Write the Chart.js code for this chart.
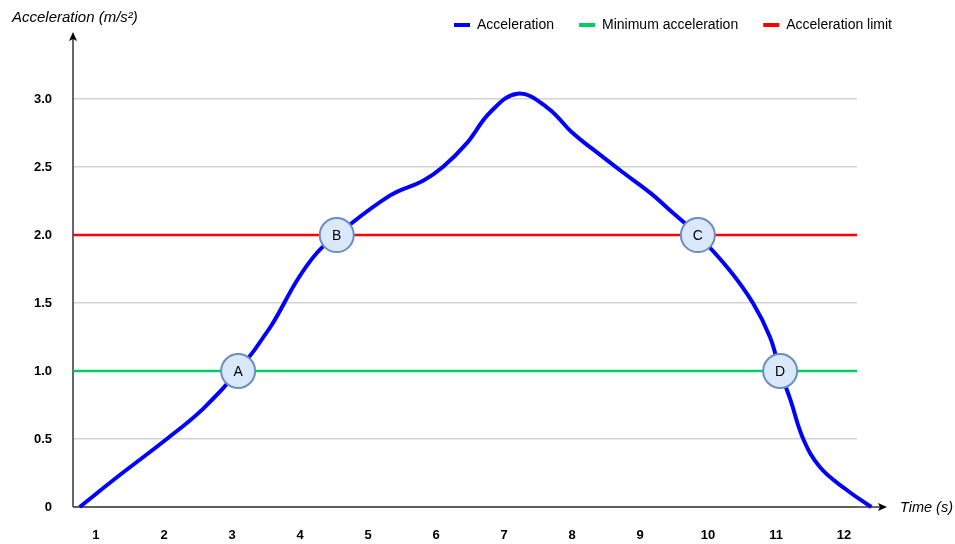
<!DOCTYPE html>
<html>
<head>
<meta charset="utf-8">
<script src="https://cdn.jsdelivr.net/npm/chart.js@4.4.1/dist/chart.umd.min.js"></script>
<style>
  html, body { margin: 0; padding: 0; background: #fff; }
  #wrap { width: 955px; height: 544px; }
</style>
</head>
<body>
<div id="wrap"><canvas id="grafico"></canvas></div>
<script>
// dados
const tempos = [0.76, 1.35, 2.04, 2.57, 3.09, 3.56, 3.96, 4.25, 4.54, 5.32, 5.81, 6.10, 6.46, 6.79, 7.20, 7.63, 8.01, 8.31, 8.75, 9.15, 9.49, 9.85, 10.32, 10.66, 10.91, 11.06, 11.21, 11.40, 11.65, 12.04, 12.40];
const aceleracoes = [0, 0.235, 0.5, 0.72, 1.0, 1.32, 1.67, 1.87, 2.0, 2.29, 2.40, 2.5, 2.68, 2.9, 3.04, 2.94, 2.75, 2.63, 2.46, 2.31, 2.16, 2.0, 1.74, 1.5, 1.25, 1.0, 0.79, 0.5, 0.29, 0.125, 0];

const aceleracaoMinima = 1.0;
const limiteAceleracao = 2.0;

const marcadores = ["A", "B", "C", "D"];
const temposMarcadores = [3.09, 4.54, 9.85, 11.06];
const valoresMarcadores = [1.0, 2.0, 2.0, 1.0];

const ticksX = [1, 2, 3, 4, 5, 6, 7, 8, 9, 10, 11, 12];
const ticksY = [0, 0.5, 1.0, 1.5, 2.0, 2.5, 3.0];

const legendas = ["Acceleration", "Minimum acceleration", "Acceleration limit"];

const xMin = 0.662;
const xMax = 12.19;
const yMax = 3.42;

const fonte = "'Liberation Sans', Arial, Helvetica, sans-serif";

// desenha eixos com setas, títulos e letras dos marcadores
const extras = {
	id: "extras",
	beforeDatasetsDraw(chart) {
		const { ctx, chartArea } = chart;
		ctx.save();
		ctx.strokeStyle = "#333";
		ctx.fillStyle = "#000";
		ctx.lineWidth = 1.5;
		// eixo Y
		ctx.beginPath();
		ctx.moveTo(chartArea.left, chartArea.bottom);
		ctx.lineTo(chartArea.left, 38);
		ctx.stroke();
		ctx.beginPath();
		ctx.moveTo(chartArea.left, 32);
		ctx.lineTo(chartArea.left - 4, 41);
		ctx.lineTo(chartArea.left, 39);
		ctx.lineTo(chartArea.left + 4, 41);
		ctx.closePath();
		ctx.fill();
		// eixo X
		ctx.beginPath();
		ctx.moveTo(chartArea.left, chartArea.bottom);
		ctx.lineTo(880, chartArea.bottom);
		ctx.stroke();
		ctx.beginPath();
		ctx.moveTo(887, chartArea.bottom);
		ctx.lineTo(878, chartArea.bottom - 4);
		ctx.lineTo(880, chartArea.bottom);
		ctx.lineTo(878, chartArea.bottom + 4);
		ctx.closePath();
		ctx.fill();
		ctx.restore();
	},
	afterDatasetsDraw(chart) {
		const { ctx } = chart;
		const meta = chart.getDatasetMeta(3);
		ctx.save();
		ctx.fillStyle = "#000";
		ctx.font = "14px " + fonte;
		ctx.textAlign = "center";
		ctx.textBaseline = "middle";
		meta.data.forEach((ponto, i) => {
			ctx.fillText(marcadores[i], ponto.x, ponto.y + 1);
		});
		ctx.restore();
	},
	afterDraw(chart) {
		const { ctx, chartArea } = chart;
		ctx.save();
		ctx.fillStyle = "#000";
		ctx.font = "italic 15px " + fonte;
		ctx.textBaseline = "middle";
		ctx.textAlign = "left";
		ctx.fillText("Acceleration (m/s²)", 12, 18);
		ctx.font = "italic 14.5px " + fonte;
		ctx.fillText("Time (s)", 900, chartArea.bottom + 1);
		ctx.restore();
	},
};

const dadosCurva = tempos.map((t, i) => ({ x: t, y: aceleracoes[i] }));
const dadosMarcadores = temposMarcadores.map((t, i) => ({ x: t, y: valoresMarcadores[i] }));

const config = {
	type: "line",
	data: {
		datasets: [
			{
				label: legendas[0],
				data: dadosCurva,
				borderColor: "#0000ff",
				backgroundColor: "#0000ff",
				borderWidth: 4,
				pointRadius: 0,
				tension: 0.4,
				clip: false,
				order: 1,
			},
			{
				label: legendas[1],
				data: [
					{ x: xMin, y: aceleracaoMinima },
					{ x: xMax, y: aceleracaoMinima },
				],
				borderColor: "#00cc66",
				backgroundColor: "#00cc66",
				borderWidth: 2.5,
				pointRadius: 0,
				clip: false,
				order: 2,
			},
			{
				label: legendas[2],
				data: [
					{ x: xMin, y: limiteAceleracao },
					{ x: xMax, y: limiteAceleracao },
				],
				borderColor: "#ff0000",
				backgroundColor: "#ff0000",
				borderWidth: 2.5,
				pointRadius: 0,
				clip: false,
				order: 3,
			},
			{
				label: "marcadores",
				data: dadosMarcadores,
				showLine: false,
				pointRadius: 17,
				pointBackgroundColor: "#dae8fc",
				pointBorderColor: "#6c8ebf",
				pointBorderWidth: 2,
				clip: false,
				order: 0,
			},
		],
	},
	options: {
		responsive: true,
		maintainAspectRatio: false,
		animation: false,
		layout: { padding: { top: -7, right: 38, left: 0, bottom: 0 } },
		plugins: {
			tooltip: { enabled: false },
			legend: {
				position: "top",
				align: "end",
				labels: {
					filter: (item) => item.text !== "marcadores",
					generateLabels: (chart) => {
						const itens = Chart.defaults.plugins.legend.labels.generateLabels(chart);
						itens.forEach((item) => {
							item.lineWidth = 0;
						});
						return itens;
					},
					boxWidth: 16,
					boxHeight: 4,
					padding: 25,
					color: "#000",
					font: { family: fonte, size: 14 },
				},
			},
		},
		scales: {
			x: {
				type: "linear",
				min: xMin,
				max: xMax,
				afterBuildTicks: (s) => {
					s.ticks = ticksX.map((v) => ({ value: v }));
				},
				afterFit: (s) => {
					s.height = 37;
				},
				grid: { display: false, drawTicks: false },
				border: { display: false },
				ticks: {
					padding: 21,
					color: "#000",
					font: { family: fonte, size: 13, weight: "bold" },
				},
			},
			y: {
				type: "linear",
				min: 0,
				max: yMax,
				afterBuildTicks: (s) => {
					s.ticks = ticksY.map((v) => ({ value: v }));
				},
				afterFit: (s) => {
					s.width = 73;
				},
				grid: { color: "#d3d3d3", lineWidth: 1.5, drawTicks: false },
				border: { display: false },
				ticks: {
					padding: 21,
					color: "#000",
					font: { family: fonte, size: 13, weight: "bold" },
					callback: (v) => (v === 0 ? "0" : v.toFixed(1)),
				},
			},
			yDireita: {
				type: "linear",
				position: "right",
				display: true,
				grid: { display: false, drawTicks: false },
				border: { display: false },
				ticks: { display: false },
				afterFit: (s) => {
					s.width = 60;
				},
			},
		},
	},
	plugins: [extras],
};

const grafico = new Chart(document.getElementById("grafico"), config);
</script>
</body>
</html>
